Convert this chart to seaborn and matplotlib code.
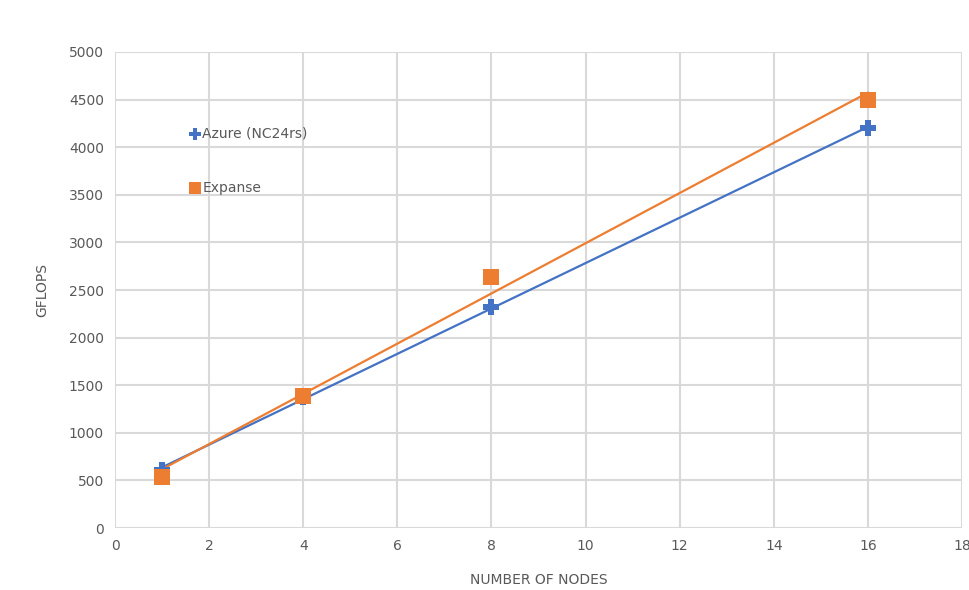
import numpy as np
import pandas as pd
import matplotlib
matplotlib.use("Agg")
import matplotlib.pyplot as plt
import seaborn as sns

# data
nodes = [1, 4, 8, 16]
azure_gflops = [610, 1375, 2325, 4200]
expanse_gflops = [540, 1390, 2640, 4495]

series_names = ["Azure (NC24rs)", "Expanse"]
colors = ["#4472C4", "#ED7D31"]
markers = ["P", "s"]

sns.set_theme(style="white")
plt.rcParams["font.family"] = ["DejaVu Sans"]

fig = plt.figure(figsize=(9.69, 5.9), dpi=100)
ax = fig.add_axes([0.1187, 0.105, 0.8741, 0.8069])

for name, vals, c, m in zip(series_names, [azure_gflops, expanse_gflops], colors, markers):
    df = pd.DataFrame({"nodes": nodes, "gflops": vals})
    # trendline (linear fit) + markers, like the Excel chart
    sns.regplot(data=df, x="nodes", y="gflops", ax=ax, ci=None, truncate=True,
                color=c, marker=m, label=name,
                scatter_kws={"s": 120, "linewidths": 0, "zorder": 4, "alpha": 1},
                line_kws={"lw": 1.6, "zorder": 3})

ax.set_xlim(0, 18)
ax.set_ylim(0, 5000)
ax.set_xticks(range(0, 19, 2))
ax.set_yticks(range(0, 5001, 500))
ax.grid(True, color="#d9d9d9", lw=1.5)
ax.set_axisbelow(True)
for s in ax.spines.values():
    s.set_visible(False)
ax.tick_params(axis="both", colors="#595959", labelsize=10, length=0, pad=8)

ax.set_ylabel("GFLOPS", color="#595959", fontsize=10, labelpad=14)
ax.set_xlabel("NUMBER OF NODES", color="#595959", fontsize=10, labelpad=14)

handles, labels = ax.get_legend_handles_labels()
leg = ax.legend(handles[:2], labels[:2], loc="upper left", bbox_to_anchor=(0.075, 0.87),
                frameon=False, handlelength=0.6, handletextpad=0.2,
                labelspacing=2.9, fontsize=10, markerscale=0.75)
for t in leg.get_texts():
    t.set_color("#595959")

fig.savefig("out.png", dpi=100)
